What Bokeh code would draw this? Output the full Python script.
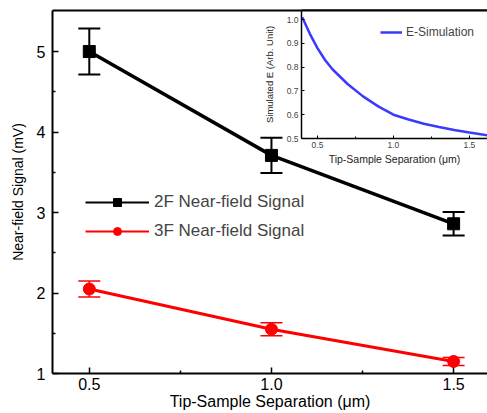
from bokeh.plotting import figure
from bokeh.layouts import column
from bokeh.models import (ColumnDataSource, Whisker, LinearAxis, FixedTicker,
                          Range1d, Legend, LegendItem, TeeHead, PrintfTickFormatter)
from bokeh.embed import file_html
from bokeh.resources import INLINE

# ---------------- data ----------------
sep = [0.5, 1.0, 1.5]
sig_2f = [5.00, 3.71, 2.86]
err_2f = [0.285, 0.22, 0.145]
sig_3f = [2.05, 1.55, 1.15]
err_3f = [0.10, 0.08, 0.05]

sim_x = [0.40, 0.45, 0.50, 0.55, 0.60, 0.70, 0.80, 0.90, 1.00, 1.10, 1.20, 1.30, 1.40, 1.50, 1.62]
sim_y = [1.01, 0.94, 0.880, 0.830, 0.790, 0.728, 0.677, 0.635, 0.600, 0.580, 0.562, 0.548, 0.536, 0.525, 0.513]

x_ticks = [0.5, 1.0, 1.5]
y_ticks = [1, 2, 3, 4, 5]
inset_x_ticks = [0.5, 1.0, 1.5]
inset_y_ticks = [0.5, 0.6, 0.7, 0.8, 0.9, 1.0]

FONT = "Liberation Sans"
NAN = float("nan")

# ---------------- main figure ----------------
p = figure(width=487, height=413, output_backend="svg", toolbar_location=None,
           x_range=Range1d(0.399, 1.593), y_range=Range1d(1.0, 5.51),
           min_border_left=50, min_border_top=10, min_border_right=0, min_border_bottom=40,
           x_axis_label="Tip-Sample Separation (\u03bcm)",
           y_axis_label="Near-field Signal (mV)")
p.outline_line_color = None
p.grid.visible = False
p.background_fill_color = "white"
p.border_fill_color = "white"

for ax in (p.xaxis[0], p.yaxis[0]):
    ax.axis_line_width = 2
    ax.axis_line_color = "black"
    ax.major_tick_line_width = 1.5
    ax.minor_tick_line_width = 1.5
    ax.major_tick_in = 6
    ax.major_tick_out = 0
    ax.minor_tick_in = 3
    ax.minor_tick_out = 0
    ax.major_label_text_font = FONT
    ax.major_label_text_font_size = "16px"
    ax.major_label_text_color = "black"
    ax.axis_label_text_font = FONT
    ax.axis_label_text_font_style = "normal"
    ax.axis_label_text_color = "black"

p.xaxis[0].ticker = FixedTicker(ticks=x_ticks, minor_ticks=[0.75, 1.25])
p.xaxis[0].formatter = PrintfTickFormatter(format="%.1f")
p.xaxis[0].major_label_standoff = 4
p.xaxis[0].axis_label_standoff = 0
p.xaxis[0].axis_label_text_font_size = "16px"
p.yaxis[0].ticker = FixedTicker(ticks=y_ticks, minor_ticks=[1.5, 2.5, 3.5, 4.5])
p.yaxis[0].major_label_standoff = 7
p.yaxis[0].axis_label_standoff = 8
p.yaxis[0].axis_label_text_font_size = "14px"

top_ax = LinearAxis(ticker=FixedTicker(ticks=[]), major_label_text_font_size="0px",
                    major_tick_in=0, major_tick_out=0, minor_tick_in=0, minor_tick_out=0,
                    major_label_standoff=0, axis_line_width=2, axis_line_color="black")
p.add_layout(top_ax, "above")

src2 = ColumnDataSource(dict(x=sep, y=sig_2f,
                             up=[v + e for v, e in zip(sig_2f, err_2f)],
                             lo=[v - e for v, e in zip(sig_2f, err_2f)]))
src3 = ColumnDataSource(dict(x=sep, y=sig_3f,
                             up=[v + e for v, e in zip(sig_3f, err_3f)],
                             lo=[v - e for v, e in zip(sig_3f, err_3f)]))

p.line("x", "y", source=src2, line_color="black", line_width=3.5)
p.line("x", "y", source=src3, line_color="red", line_width=3)

w2 = Whisker(source=src2, base="x", upper="up", lower="lo", line_color="black", line_width=2,
             upper_head=TeeHead(size=22, line_color="black", line_width=2),
             lower_head=TeeHead(size=22, line_color="black", line_width=2))
w3 = Whisker(source=src3, base="x", upper="up", lower="lo", line_color="red", line_width=1.5,
             upper_head=TeeHead(size=22, line_color="red", line_width=1.5),
             lower_head=TeeHead(size=22, line_color="red", line_width=1.5))
p.add_layout(w2)
p.add_layout(w3)

p.scatter("x", "y", source=src2, marker="square", size=12, color="black")
p.scatter("x", "y", source=src3, marker="circle", size=12, color="red")

# legend proxies (thin line + marker, no visible data)
l2 = p.line([NAN], [NAN], line_color="black", line_width=2)
m2 = p.scatter([NAN], [NAN], marker="square", size=12, color="black")
l3 = p.line([NAN], [NAN], line_color="red", line_width=2)
m3 = p.scatter([NAN], [NAN], marker="circle", size=12, color="red")
leg = Legend(items=[LegendItem(label="2F Near-field Signal", renderers=[l2, m2]),
                    LegendItem(label="3F Near-field Signal", renderers=[l3, m3])],
             location=(33, 132), padding=0, margin=0, spacing=9,
             glyph_width=64, glyph_height=20, label_height=20, label_standoff=5,
             label_text_font=FONT, label_text_font_size="17px",
             background_fill_alpha=0, border_line_color=None)
p.add_layout(leg)

# ---------------- inset ----------------
q = figure(width=238, height=170, output_backend="svg", toolbar_location=None,
           x_range=Range1d(0.395, 1.619), y_range=Range1d(0.5, 1.038),
           min_border_left=52, min_border_top=10, min_border_right=0, min_border_bottom=32,
           x_axis_label="Tip-Sample Separation (\u03bcm)",
           y_axis_label="Simulated E (Arb. Unit)")
q.outline_line_color = None
q.grid.visible = False
q.background_fill_color = "white"
q.border_fill_color = None
q.border_fill_alpha = 0

for ax in (q.xaxis[0], q.yaxis[0]):
    ax.axis_line_width = 1.5
    ax.axis_line_color = "black"
    ax.major_tick_in = 3
    ax.major_tick_out = 0
    ax.minor_tick_in = 2
    ax.minor_tick_out = 0
    ax.major_label_text_font = FONT
    ax.major_label_text_font_size = "8.5px"
    ax.major_label_text_color = "#444444"
    ax.axis_label_text_font = FONT
    ax.axis_label_text_font_style = "normal"
    ax.axis_label_text_color = "#222222"
    ax.major_label_standoff = 3
    ax.axis_label_standoff = 2
    ax.formatter = PrintfTickFormatter(format="%.1f")

q.xaxis[0].ticker = FixedTicker(ticks=inset_x_ticks, minor_ticks=[0.75, 1.25])
q.xaxis[0].axis_label_text_font_size = "10.5px"
q.yaxis[0].ticker = FixedTicker(ticks=inset_y_ticks, minor_ticks=[])
q.yaxis[0].axis_label_text_font_size = "9.5px"
q.yaxis[0].axis_label_standoff = 9

q_top = LinearAxis(ticker=FixedTicker(ticks=[]), major_label_text_font_size="0px",
                   major_tick_in=0, major_tick_out=0, minor_tick_in=0, minor_tick_out=0,
                   major_label_standoff=0, axis_line_width=2, axis_line_color="black")
q.add_layout(q_top, "above")

sim = q.line(sim_x, sim_y, line_color="#3a3aff", line_width=2.5)
qleg = Legend(items=[LegendItem(label="E-Simulation", renderers=[sim])],
              location=(79, 98), padding=0, margin=0,
              glyph_width=22, glyph_height=16, label_height=16, label_standoff=4,
              label_text_font=FONT, label_text_font_size="12px",
              background_fill_alpha=0, border_line_color=None)
q.add_layout(qleg)

q.styles = {"position": "absolute", "left": "249px", "top": "0px", "z-index": "5"}

layout = column(p, q, styles={"position": "relative"})

open("out.html", "w").write(file_html(layout, INLINE))
